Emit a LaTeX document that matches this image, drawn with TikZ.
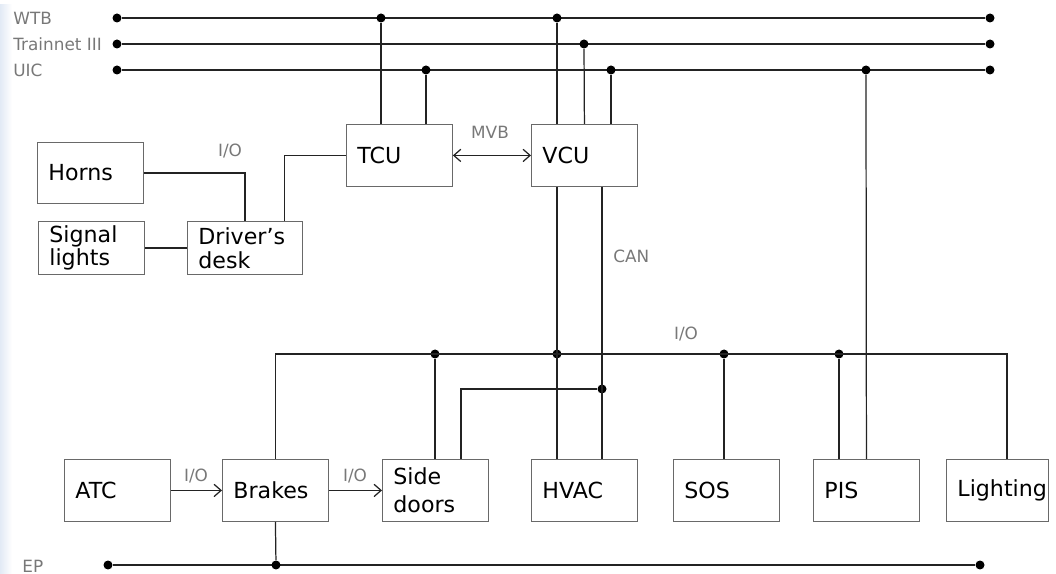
\documentclass[tikz,border=0pt]{standalone}
\usepackage{fontspec}
\setmainfont{DejaVu Sans}
\usepackage{tikz}
\usetikzlibrary{arrows.meta, calc}
\definecolor{tcms-line}{RGB}{35, 35, 35}
\definecolor{tcms-box}{RGB}{105, 105, 105}
\definecolor{tcms-lbl}{RGB}{120, 120, 120}
\definecolor{tcms-strip}{RGB}{226, 234, 245}

\begin{document}
\begin{tikzpicture}[
    x=0.02cm, y=-0.02cm,
    unit/.style={rectangle, draw=tcms-box, line width=0.5pt, anchor=north west,
                 minimum height=1.24cm, text width=1.68cm, inner xsep=0.22cm, inner ysep=0pt,
                 align=left, font=\fontsize{12.6}{15.9}\selectfont},
    lowunit/.style={unit, minimum height=1.06cm, font=\fontsize{12.6}{13.5}\selectfont},
    bus/.style={draw=tcms-line, line width=0.85pt},
    wire/.style={draw=tcms-line, line width=0.7pt},
    arr/.style={wire, -{Straight Barb[length=4pt, width=7pt]}},
    biarr/.style={wire, {Straight Barb[length=4pt, width=7pt]}-{Straight Barb[length=4pt, width=7pt]}},
    dot/.style={circle, fill=black, inner sep=0pt, minimum size=0.18cm},
    lbl/.style={font=\fontsize{9.6}{11}\selectfont, text=tcms-lbl, inner sep=0pt}
  ]
    \useasboundingbox (0,0) rectangle (1056,574);
    \shade[left color=tcms-strip, right color=white] (0,5) rectangle (12,574);

    \node[lbl, anchor=west] (lwtb) at (13,18) {WTB};
    \node[lbl, anchor=west] (ltn)  at (13,44) {Trainnet III};
    \node[lbl, anchor=west] (luic) at (13,70) {UIC};
    \node[lbl, anchor=west] (lep)  at (22,566) {EP};

    \node[unit]                    (tcu) at (346,124) {TCU};
    \node[unit]                    (vcu) at (531,124) {VCU};
    \node[unit, minimum height=1.22cm] (hr) at (37,142) {Horns};
    \node[lowunit]                 (sl)  at (38,221)  {Signal\\lights};
    \node[lowunit, text width=1.86cm] (dd) at (187,221) {Driver’s\\desk};

    \node[unit] (atc)  at (64,459)  {ATC};
    \node[unit] (br)   at (222,459) {Brakes};
    \node[unit] (sd)   at (382,459) {Side\\doors};
    \node[unit] (hvac) at (531,459) {HVAC};
    \node[unit] (sos)  at (673,459) {SOS};
    \node[unit] (pis)  at (813,459) {PIS};
    \node[unit, text width=1.6cm] (li) at (946,459) {Lighting};

    \node[dot] (wtbL) at (117,18) {};
    \node[dot] (wtbR) at (990,18) {};
    \node[dot] (tnL)  at (117,44) {};
    \node[dot] (tnR)  at (990,44) {};
    \node[dot] (uicL) at (117,70) {};
    \node[dot] (uicR) at (990,70) {};
    \node[dot] (epL)  at (108,565) {};
    \node[dot] (epR)  at (980,565) {};

    \draw[bus] (wtbL) -- (wtbR);
    \draw[bus] (tnL) -- (tnR);
    \draw[bus] (uicL) -- (uicR);
    \draw[bus] (epL) -- (epR);

    \node[dot] (w1) at (381,18) {};
    \node[dot] (u1) at (426,70) {};
    \node[dot] (w2) at (557,18) {};
    \node[dot] (t2) at (584,44) {};
    \node[dot] (u2) at (611,70) {};
    \node[dot] (u3) at (866,70) {};
    \node[dot] (e1) at (276,565) {};

    \draw[wire] (w1) -- (w1 |- tcu.north);
    \draw[wire] (u1) -- (u1 |- tcu.north);
    \draw[wire] (w2) -- (w2 |- vcu.north);
    \draw[wire] (t2) -- (vcu.north);
    \draw[wire] (u2) -- (u2 |- vcu.north);
    \draw[wire] (u3) -- (pis.north);
    \draw[wire] (br.south) -- (e1);

    \draw[wire] (hr.east) -| (dd.north);
    \draw[wire] (sl.east) -- (sl.east -| dd.west);
    \draw[wire] ([xshift=-0.36cm]dd.north east) |- (tcu.west);
    \draw[biarr] (tcu) -- (vcu);
    \node[lbl] (lmvb) at (490,132) {MVB};
    \node[lbl] (lio1) at (230,151) {I/O};

    \coordinate (ioR) at (1007,354);
    \node[dot] (i1) at (435,354) {};
    \node[dot] (i2) at (557,354) {};
    \node[dot] (i3) at (724,354) {};
    \node[dot] (i4) at (839,354) {};
    \node[dot] (c1) at (602,389) {};
    \draw[wire] (br.north) |- (ioR) -- (ioR |- li.north);
    \draw[wire] (i1) -- (i1 |- sd.north);
    \draw[wire] (w2 |- vcu.south) -- (w2 |- hvac.north);
    \draw[wire] (c1 |- vcu.south) -- (c1 |- hvac.north);
    \draw[wire] (i3) -- (i3 |- sos.north);
    \draw[wire] (i4) -- (i4 |- pis.north);
    \draw[wire] (461,0 |- sd.north) |- (c1);
    \node[lbl] (lio2) at (686,334) {I/O};
    \node[lbl, anchor=west] (lcan) at (613,256) {CAN};

    \draw[arr] (atc) -- (br);
    \draw[arr] (br) -- (sd);
    \node[lbl] (lio3) at (196,476) {I/O};
    \node[lbl] (lio4) at (355,476) {I/O};
  \end{tikzpicture}
\end{document}
